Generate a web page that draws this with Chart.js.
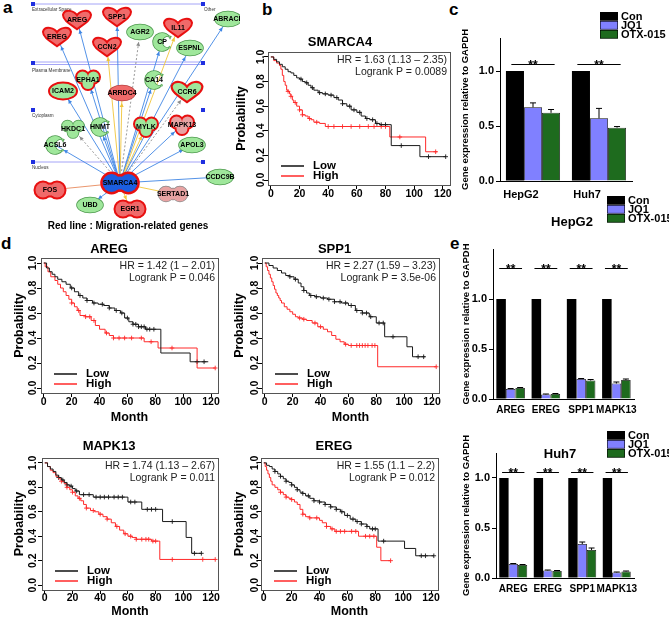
<!DOCTYPE html>
<html>
<head>
<meta charset="utf-8">
<script src="https://cdn.jsdelivr.net/npm/chart.js"></script>
<style>
  html, body { margin: 0; padding: 0; background: #fff; }
  body { width: 669px; height: 617px; position: relative; overflow: hidden; font-family: "Liberation Sans", Arial, sans-serif; }
  .tag { position: absolute; font-weight: bold; font-size: 17px; line-height: 17px; color: #000; }
</style>
</head>
<body>
<div class="tag" style="left:3px;top:-1px">a</div>
<div class="tag" style="left:262px;top:1px">b</div>
<div class="tag" style="left:449px;top:1px">c</div>
<div class="tag" style="left:1px;top:235px">d</div>
<div class="tag" style="left:450px;top:235px">e</div>
<script>
// ---- network (panel a) ----
const netGenes = ['AREG', 'SPP1', 'EREG', 'CCN2', 'AGR2', 'IL11', 'CP', 'ESPNL', 'ABRACL', 'EPHA1', 'ICAM2', 'ARRDC4', 'CA14', 'CCR6',
    'HKDC1', 'HNMT', 'MYLK', 'MAPK13', 'ACSL6', 'APOL3', 'CCDC9B', 'FOS', 'SERTAD1', 'UBD', 'EGR1'];
const netX = [77, 117, 57, 107, 140, 178, 162, 190, 228, 88, 63, 122, 154, 187, 73, 100, 146, 182, 55, 192, 220, 50, 173, 90, 130];
const netY = [20, 17, 37, 47, 32, 28, 42, 48, 19, 80, 91, 93, 80, 92, 129, 127, 127, 125, 145, 145, 177, 190, 194, 205, 209];
const netKind = ['lig', 'lig', 'lig', 'lig', 'ell', 'lig', 'cres', 'ell', 'ell', 'kin', 'ell', 'ell', 'cres', 'lig',
    'kin', 'cres', 'kin', 'kin', 'cres', 'ell', 'ell', 'pea', 'pea', 'ell', 'pea'];
const netFill = ['red', 'red', 'red', 'red', 'green', 'red', 'green', 'green', 'green', 'green', 'green', 'red', 'green', 'green',
    'green', 'green', 'green', 'pink', 'green', 'green', 'green', 'red', 'pink', 'green', 'red'];
const netRing = [1, 1, 1, 1, 0, 1, 0, 0, 0, 1, 1, 0, 0, 1, 0, 0, 1, 1, 0, 0, 0, 1, 0, 0, 1];
const netEdge = ['blue', 'blue', 'blue', 'yellow', 'gray', 'yellow', 'blue', 'blue', 'blue', 'blue', 'blue', 'yellow', 'blue', 'gray',
    'gray', 'blue', 'yellow', 'blue', 'blue', 'blue', 'blue', 'orange', 'yellow', 'blue', 'yellow'];
const hubGene = 'SMARCA4';
const hubX = 120;
const hubY = 183;
const compartNames = ['Extracellular Space', 'Other', 'Plasma Membrane', 'Cytoplasm', 'Nucleus'];
const compartNameX = [32, 204, 32, 32, 32];
const compartNameY = [10, 10, 71, 116, 168];
const compartLines = [4, 62, 64.5, 162];
const compartMarks = [4, 63, 110, 162];

// ---- survival curves (b, d) ----
const kmXTicks = [0, 20, 40, 60, 80, 100, 120];
const kmYTicks = [0, 0.2, 0.4, 0.6, 0.8, 1.0];

const smLowT = [0, 2, 4, 6, 8, 10, 12, 14, 16, 18, 20, 22, 24, 26, 28, 30, 33, 36, 40, 44, 47, 50, 53, 56, 60, 63, 66, 69, 73, 76, 84, 104, 122];
const smLowS = [1, 0.98, 0.96, 0.94, 0.92, 0.9, 0.88, 0.87, 0.85, 0.83, 0.82, 0.8, 0.79, 0.77, 0.75, 0.73, 0.71, 0.7, 0.69, 0.67, 0.65, 0.62, 0.6, 0.57, 0.55, 0.52, 0.5, 0.49, 0.46, 0.45, 0.28, 0.19, 0.19];
const smLowC = [21, 25, 29, 34, 38, 42, 46, 50, 55, 58, 62, 67, 71, 74, 77, 80, 91, 110, 122];
const smHighT = [0, 2, 4, 6, 7, 8, 9, 10, 11, 12, 13, 14, 15, 16, 18, 20, 22, 24, 26, 28, 30, 34, 38, 83, 108, 116];
const smHighS = [1, 0.97, 0.95, 0.93, 0.9, 0.85, 0.8, 0.77, 0.73, 0.72, 0.7, 0.68, 0.65, 0.63, 0.6, 0.57, 0.53, 0.52, 0.5, 0.49, 0.47, 0.46, 0.435, 0.35, 0.23, 0.23];
const smHighC = [12, 14, 17, 20, 22, 27, 32, 40, 44, 50, 56, 62, 68, 72, 77, 80, 90, 115];

const arLowT = [0, 2, 4, 6, 8, 10, 13, 16, 19, 22, 25, 28, 31, 35, 39, 43, 47, 51, 55, 58, 61, 64, 68, 73, 84, 105, 118];
const arLowS = [1, 0.96, 0.93, 0.91, 0.89, 0.87, 0.85, 0.83, 0.8, 0.77, 0.74, 0.72, 0.7, 0.68, 0.67, 0.66, 0.64, 0.62, 0.6, 0.56, 0.53, 0.51, 0.49, 0.47, 0.28, 0.21, 0.21];
const arLowC = [20, 26, 31, 36, 42, 47, 52, 56, 60, 64, 66, 68, 70, 72, 74, 76, 79, 110, 115];
const arHighT = [0, 1, 3, 5, 8, 10, 12, 14, 16, 18, 20, 22, 24, 26, 30, 34, 37, 40, 44, 47, 50, 72, 82, 110, 123];
const arHighS = [1, 0.97, 0.93, 0.89, 0.86, 0.83, 0.8, 0.77, 0.74, 0.71, 0.68, 0.65, 0.62, 0.58, 0.57, 0.54, 0.5, 0.47, 0.44, 0.42, 0.4, 0.37, 0.32, 0.16, 0.16];
const arHighC = [20, 25, 30, 33, 36, 45, 50, 54, 58, 63, 70, 77, 92, 123];

const spLowT = [0, 3, 6, 9, 12, 15, 18, 21, 24, 26, 28, 30, 32, 36, 40, 45, 50, 55, 60, 65, 70, 75, 80, 86, 102, 106, 115];
const spLowS = [1, 0.98, 0.96, 0.94, 0.92, 0.9, 0.89, 0.87, 0.84, 0.81, 0.78, 0.76, 0.74, 0.73, 0.72, 0.71, 0.69, 0.68, 0.66, 0.62, 0.6, 0.57, 0.52, 0.41, 0.33, 0.25, 0.25];
const spLowC = [18, 22, 28, 33, 37, 42, 46, 50, 54, 58, 62, 66, 70, 73, 76, 82, 85, 92, 110, 114];
const spHighT = [0, 1, 2, 3, 4, 5, 6, 7, 8, 9, 10, 11, 12, 14, 16, 18, 20, 22, 24, 27, 30, 34, 38, 42, 45, 48, 51, 54, 57, 60, 81, 123];
const spHighS = [1, 0.97, 0.94, 0.91, 0.88, 0.85, 0.82, 0.79, 0.76, 0.74, 0.72, 0.7, 0.68, 0.65, 0.63, 0.61, 0.59, 0.57, 0.56, 0.55, 0.54, 0.52, 0.49, 0.47, 0.45, 0.42, 0.39, 0.37, 0.35, 0.34, 0.17, 0.17];
const spHighC = [25, 28, 36, 40, 58, 62, 66, 68, 70, 72, 74, 77, 79, 123];

const mkLowT = [0, 2, 4, 6, 8, 10, 12, 14, 16, 18, 20, 22, 25, 35, 60, 70, 85, 102, 106, 113];
const mkLowS = [1, 0.97, 0.95, 0.93, 0.9, 0.88, 0.86, 0.84, 0.82, 0.81, 0.79, 0.77, 0.74, 0.72, 0.68, 0.62, 0.52, 0.39, 0.26, 0.26];
const mkLowC = [10, 13, 16, 19, 23, 28, 32, 37, 40, 43, 46, 50, 53, 56, 62, 65, 74, 77, 80, 92, 108, 113];
const mkHighT = [0, 2, 4, 6, 8, 10, 12, 14, 16, 18, 20, 22, 24, 26, 28, 30, 33, 36, 39, 42, 45, 48, 51, 54, 57, 60, 63, 66, 77, 83, 123];
const mkHighS = [1, 0.97, 0.94, 0.92, 0.89, 0.87, 0.85, 0.83, 0.8, 0.78, 0.76, 0.73, 0.71, 0.69, 0.66, 0.63, 0.61, 0.6, 0.58, 0.56, 0.54, 0.51, 0.48, 0.45, 0.42, 0.4, 0.39, 0.375, 0.36, 0.21, 0.21];
const mkHighC = [12, 16, 20, 25, 30, 35, 40, 45, 52, 58, 62, 66, 70, 73, 75, 78, 80, 92, 114, 123];

const erLowT = [0, 2, 4, 6, 8, 10, 12, 14, 16, 18, 20, 22, 24, 26, 28, 30, 33, 36, 40, 44, 48, 52, 55, 58, 62, 66, 70, 74, 76, 82, 101, 109, 122];
const erLowS = [1, 0.98, 0.97, 0.95, 0.93, 0.91, 0.89, 0.87, 0.85, 0.84, 0.82, 0.8, 0.78, 0.76, 0.75, 0.73, 0.71, 0.69, 0.68, 0.66, 0.64, 0.62, 0.6, 0.57, 0.54, 0.52, 0.5, 0.48, 0.46, 0.36, 0.3, 0.24, 0.24];
const erLowC = [8, 12, 16, 20, 24, 28, 32, 36, 40, 44, 48, 52, 56, 60, 64, 67, 70, 74, 78, 80, 86, 113, 116, 122];
const erHighT = [0, 1, 2, 3, 4, 5, 6, 8, 10, 12, 14, 16, 18, 20, 22, 24, 26, 28, 30, 33, 40, 42, 45, 48, 51, 68, 81, 84, 91];
const erHighS = [1, 0.97, 0.94, 0.91, 0.88, 0.85, 0.82, 0.8, 0.78, 0.76, 0.74, 0.72, 0.71, 0.7, 0.68, 0.66, 0.62, 0.58, 0.56, 0.55, 0.53, 0.51, 0.48, 0.46, 0.44, 0.4, 0.31, 0.2, 0.2];
const erHighC = [12, 16, 20, 28, 33, 38, 45, 49, 52, 55, 58, 63, 66, 73, 76, 79, 91];

// ---- qPCR bars (c, e) ----
const barSeries = ['Con', 'JQ1', 'OTX-015'];
const barTicks = [0, 0.5, 1.0];

const cLabels = ['HepG2', 'Huh7'];
const cCon = [1, 1];
const cJq1 = [0.67, 0.57];
const cJq1Err = [0.04, 0.09];
const cOtx = [0.62, 0.485];
const cOtxErr = [0.03, 0.01];

const eLabels = ['AREG', 'EREG', 'SPP1', 'MAPK13'];
const hepCon = [1, 1, 1, 1];
const hepJq1 = [0.1, 0.045, 0.2, 0.155];
const hepJq1Err = [0.005, 0.005, 0.005, 0.015];
const hepOtx = [0.11, 0.05, 0.185, 0.19];
const hepOtxErr = [0.005, 0.005, 0.01, 0.01];
const huhCon = [1, 1, 1, 1];
const huhJq1 = [0.14, 0.075, 0.34, 0.055];
const huhJq1Err = [0.005, 0.005, 0.02, 0.005];
const huhOtx = [0.13, 0.07, 0.28, 0.065];
const huhOtxErr = [0.005, 0.005, 0.02, 0.005];

const FAM = '"Liberation Sans", Arial, sans-serif';
Chart.defaults.font.family = FAM;
Chart.defaults.color = '#000';

const measureCtx = document.createElement('canvas').getContext('2d');

function makeCanvas(x, y, w, h) {
    const c = document.createElement('canvas');
    c.width = w;
    c.height = h;
    c.style.cssText = `position:absolute;left:${x}px;top:${y}px;width:${w}px;height:${h}px`;
    document.body.appendChild(c);
    return c;
}

// ---------- panel a ----------
const edgeColors = { blue: '#3f86e4', yellow: '#f0c53a', gray: '#8c8c8c', orange: '#e88a5c' };
const fillColors = { red: '#f06a6a', green: '#9fe79b', pink: '#e8a3a3', blue: '#1c5ee0' };
const lineColors = { red: '#b84444', green: '#4f9a4f', pink: '#8a8a8a', blue: '#1c3f99' };

function shapeParts(kind) {
    if (kind === 'lig') {
        return [ctx => {
            ctx.moveTo(0, -3);
            ctx.bezierCurveTo(-3, -9, -12, -10, -13, -5);
            ctx.bezierCurveTo(-13, 0, -5, 4, 0, 8);
            ctx.bezierCurveTo(5, 4, 13, 0, 13, -5);
            ctx.bezierCurveTo(12, -10, 3, -9, 0, -3);
        }];
    }
    if (kind === 'ell') {
        return [ctx => ctx.ellipse(0, 0, 13, 7.5, 0, 0, Math.PI * 2)];
    }
    if (kind === 'cres') {
        return [ctx => {
            ctx.arc(0, 0, 9, 0.15 * Math.PI, 1.85 * Math.PI);
            ctx.arc(6, 0, 6, 1.647 * Math.PI, 0.353 * Math.PI, true);
        }];
    }
    if (kind === 'kin') {
        return [
            ctx => ctx.arc(-5.5, -3, 5.5, 0, Math.PI * 2),
            ctx => ctx.arc(5.5, -3, 5.5, 0, Math.PI * 2),
            ctx => ctx.arc(0, 3.5, 5.5, 0, Math.PI * 2)
        ];
    }
    // two-lobed nuclear factor
    return [
        ctx => ctx.arc(-7, 0, 7.5, 0, Math.PI * 2),
        ctx => ctx.arc(7, 0, 7.5, 0, Math.PI * 2),
        ctx => ctx.ellipse(0, 0, 8, 5.5, 0, 0, Math.PI * 2)
    ];
}

function drawNode(ctx, px, py, kind, fill, ring, label, scale) {
    const parts = shapeParts(kind);
    ctx.save();
    ctx.translate(px, py);
    ctx.scale(scale, scale);
    ctx.lineWidth = ring ? 4 : 1.6;
    ctx.strokeStyle = ring ? '#e81010' : lineColors[fill];
    parts.forEach(p => { ctx.beginPath(); p(ctx); ctx.stroke(); });
    ctx.fillStyle = fillColors[fill];
    parts.forEach(p => { ctx.beginPath(); p(ctx); ctx.fill(); });
    ctx.restore();
    ctx.save();
    ctx.font = 'bold 7px ' + FAM;
    ctx.fillStyle = '#000';
    ctx.textAlign = 'center';
    ctx.textBaseline = 'middle';
    ctx.fillText(label, px, py);
    ctx.restore();
}

const netPlugin = {
    id: 'net',
    beforeDatasetsDraw(chart) {
        const { ctx, scales: { x, y } } = chart;
        ctx.save();
        ctx.strokeStyle = '#8e8ef5';
        ctx.lineWidth = 0.8;
        compartLines.forEach(v => {
            ctx.beginPath();
            ctx.moveTo(x.getPixelForValue(33), y.getPixelForValue(v));
            ctx.lineTo(x.getPixelForValue(203), y.getPixelForValue(v));
            ctx.stroke();
        });
        ctx.fillStyle = '#1f2fe0';
        compartMarks.forEach(v => {
            [33, 203].forEach(xv => ctx.fillRect(x.getPixelForValue(xv) - 2, y.getPixelForValue(v) - 2, 4, 4));
        });
        ctx.fillStyle = '#333';
        ctx.font = '4.6px ' + FAM;
        ctx.textBaseline = 'middle';
        compartNames.forEach((n, i) => ctx.fillText(n, x.getPixelForValue(compartNameX[i]), y.getPixelForValue(compartNameY[i])));
        ctx.restore();
    },
    afterDatasetsDraw(chart) {
        const { ctx, scales: { x, y } } = chart;
        const hx = x.getPixelForValue(hubX);
        const hy = y.getPixelForValue(hubY);
        // arrow heads
        netGenes.forEach((g, i) => {
            const nx = x.getPixelForValue(netX[i]);
            const ny = y.getPixelForValue(netY[i]);
            const len = Math.hypot(nx - hx, ny - hy);
            const ux = (nx - hx) / len;
            const uy = (ny - hy) / len;
            const tx = nx - ux * 10;
            const ty = ny - uy * 10;
            ctx.save();
            ctx.fillStyle = edgeColors[netEdge[i]];
            ctx.beginPath();
            ctx.moveTo(tx, ty);
            ctx.lineTo(tx - ux * 4 - uy * 2, ty - uy * 4 + ux * 2);
            ctx.lineTo(tx - ux * 4 + uy * 2, ty - uy * 4 - ux * 2);
            ctx.closePath();
            ctx.fill();
            ctx.restore();
        });
        netGenes.forEach((g, i) => {
            const sc = g === 'CCR6' ? 1.1 : 1;
            drawNode(ctx, x.getPixelForValue(netX[i]), y.getPixelForValue(netY[i]), netKind[i], netFill[i], netRing[i], g, sc);
        });
        drawNode(ctx, hx, hy, 'pea', 'blue', 1, hubGene, 1.2);
        ctx.save();
        ctx.font = 'bold 10px ' + FAM;
        ctx.fillStyle = '#000';
        ctx.textAlign = 'center';
        ctx.textBaseline = 'middle';
        ctx.fillText('Red line : Migration-related genes', x.getPixelForValue(128), y.getPixelForValue(226));
        ctx.restore();
    }
};

new Chart(makeCanvas(0, 0, 240, 232), {
    type: 'scatter',
    data: {
        datasets: netGenes.map((g, i) => ({
            label: g,
            data: [{ x: hubX, y: hubY }, { x: netX[i], y: netY[i] }],
            showLine: true,
            borderColor: edgeColors[netEdge[i]],
            borderWidth: 0.9,
            borderDash: netEdge[i] === 'gray' ? [2, 2] : [],
            pointRadius: 0
        }))
    },
    options: {
        responsive: false,
        animation: false,
        events: [],
        layout: { padding: 0 },
        scales: {
            x: { type: 'linear', min: 0, max: 240, display: false },
            y: { type: 'linear', min: 0, max: 232, reverse: true, display: false }
        },
        plugins: { legend: { display: false }, tooltip: { enabled: false } }
    },
    plugins: [netPlugin]
});

// ---------- panels b, d ----------
function stepData(t, s) {
    return t.map((v, i) => ({ x: v, y: s[i] }));
}

function censorData(t, s, c) {
    return c.map(m => {
        let k = 0;
        for (let i = 0; i < t.length; i++) {
            if (t[i] <= m) k = i;
        }
        return { x: m, y: s[k] };
    });
}

const kmDecor = {
    id: 'kmDecor',
    afterDraw(chart, args, o) {
        const { ctx, chartArea: a } = chart;
        ctx.save();
        ctx.strokeStyle = '#555';
        ctx.lineWidth = 1;
        ctx.strokeRect(Math.round(a.left) + 0.5, Math.round(a.top) + 0.5, Math.round(a.width), Math.round(a.height));
        ctx.fillStyle = '#222';
        ctx.font = '10.5px ' + FAM;
        ctx.textAlign = 'right';
        ctx.textBaseline = 'middle';
        ctx.fillText(o.hr, a.right - 3, a.top + 8);
        ctx.fillText(o.p, a.right - 3, a.top + 20);
        const rows = [['Low', '#111', 19], ['High', '#ff2a2a', 9]];
        ctx.textAlign = 'left';
        ctx.font = 'bold 11.5px ' + FAM;
        rows.forEach(([t, c, dy]) => {
            ctx.strokeStyle = c;
            ctx.lineWidth = 1.5;
            ctx.beginPath();
            ctx.moveTo(a.left + 13, a.bottom - dy);
            ctx.lineTo(a.left + 36, a.bottom - dy);
            ctx.stroke();
            ctx.fillStyle = '#000';
            ctx.fillText(t, a.left + 45, a.bottom - dy);
        });
        ctx.restore();
    }
};

function drawKM(g, d) {
    const tl = 4;
    const tickFont = { size: 10.5, weight: 'bold' };
    measureCtx.font = 'bold 10.5px ' + FAM;
    const widest = measureCtx.measureText('0.0').width;
    const cv = makeCanvas(g.cl, g.ct, g.cw, g.ch);
    new Chart(cv, {
        type: 'line',
        data: {
            datasets: [
                { data: stepData(d.lowT, d.lowS), borderColor: '#1a1a1a', borderWidth: 1, stepped: true, pointRadius: 0 },
                { data: stepData(d.highT, d.highS), borderColor: '#ff2a2a', borderWidth: 1, stepped: true, pointRadius: 0 },
                {
                    data: censorData(d.lowT, d.lowS, d.lowC), showLine: false, pointStyle: 'cross', pointRadius: 2.3,
                    borderColor: '#1a1a1a', pointBorderColor: '#1a1a1a', pointBorderWidth: 0.9
                },
                {
                    data: censorData(d.highT, d.highS, d.highC), showLine: false, pointStyle: 'cross', pointRadius: 2.3,
                    borderColor: '#ff2a2a', pointBorderColor: '#ff2a2a', pointBorderWidth: 0.9
                }
            ]
        },
        options: {
            responsive: false,
            animation: false,
            events: [],
            layout: { padding: { left: 0, top: 0, bottom: 0, right: g.cl + g.cw - g.r } },
            plugins: {
                legend: { display: false },
                tooltip: { enabled: false },
                title: {
                    display: true,
                    text: d.title,
                    color: '#000',
                    font: { size: 13, weight: 'bold' },
                    padding: { top: g.titleY - g.ct - 7.8, bottom: g.t - g.titleY - 7.8 }
                },
                kmDecor: { hr: d.hr, p: d.p }
            },
            scales: {
                x: {
                    type: 'linear',
                    min: -2,
                    max: 125,
                    afterBuildTicks: s => { s.ticks = kmXTicks.map(v => ({ value: v })); },
                    afterFit: s => { s.height = g.ct + g.ch - g.b; },
                    grid: { drawOnChartArea: false, drawTicks: true, tickLength: tl, color: '#000' },
                    border: { display: false },
                    ticks: { font: tickFont, color: '#000', maxRotation: 0, autoSkip: false, padding: g.xLabY - 5 - g.b - tl },
                    title: {
                        display: !!g.monthY,
                        text: 'Month',
                        color: '#000',
                        font: { size: 12.5, weight: 'bold' },
                        padding: { top: 0, bottom: g.monthY ? g.ct + g.ch - g.monthY - 7.5 : 0 }
                    }
                },
                y: {
                    type: 'linear',
                    min: -0.04,
                    max: 1.04,
                    afterBuildTicks: s => { s.ticks = kmYTicks.map(v => ({ value: v })); },
                    afterFit: s => { s.width = g.l - g.cl; },
                    grid: { drawOnChartArea: false, drawTicks: true, tickLength: tl, color: '#000' },
                    border: { display: false },
                    ticks: {
                        font: tickFont,
                        color: '#000',
                        minRotation: 90,
                        maxRotation: 90,
                        crossAlign: 'center',
                        padding: (g.l - g.yLabX) - tl - widest / 2,
                        callback: v => v.toFixed(1)
                    },
                    title: {
                        display: true,
                        text: 'Probability',
                        color: '#000',
                        font: { size: 12.5, weight: 'bold' },
                        padding: { top: g.probX - g.cl - 7.5, bottom: 0 }
                    }
                }
            }
        },
        plugins: [kmDecor]
    });
}

drawKM({ cl: 230, ct: 0, cw: 230, ch: 200, l: 268, r: 450, t: 52, b: 185, titleY: 42, probX: 242, yLabX: 261, xLabY: 193, monthY: null },
    { title: 'SMARCA4', hr: 'HR = 1.63 (1.13 \u2013 2.35)', p: 'Logrank P = 0.0089',
      lowT: smLowT, lowS: smLowS, lowC: smLowC, highT: smHighT, highS: smHighS, highC: smHighC });
drawKM({ cl: 0, ct: 232, cw: 230, ch: 195, l: 41, r: 218, t: 258, b: 393, titleY: 249, probX: 20, yLabX: 33, xLabY: 401, monthY: 418 },
    { title: 'AREG', hr: 'HR = 1.42 (1 \u2013 2.01)', p: 'Logrank P = 0.046',
      lowT: arLowT, lowS: arLowS, lowC: arLowC, highT: arHighT, highS: arHighS, highC: arHighC });
drawKM({ cl: 230, ct: 232, cw: 230, ch: 195, l: 262, r: 439, t: 258, b: 393, titleY: 249, probX: 240, yLabX: 255, xLabY: 401, monthY: 418 },
    { title: 'SPP1', hr: 'HR = 2.27 (1.59 \u2013 3.23)', p: 'Logrank P = 3.5e-06',
      lowT: spLowT, lowS: spLowS, lowC: spLowC, highT: spHighT, highS: spHighS, highC: spHighC });
drawKM({ cl: 0, ct: 430, cw: 230, ch: 191, l: 42, r: 218, t: 458, b: 590, titleY: 446, probX: 20, yLabX: 33, xLabY: 597, monthY: 612 },
    { title: 'MAPK13', hr: 'HR = 1.74 (1.13 \u2013 2.67)', p: 'Logrank P = 0.011',
      lowT: mkLowT, lowS: mkLowS, lowC: mkLowC, highT: mkHighT, highS: mkHighS, highC: mkHighC });
drawKM({ cl: 230, ct: 430, cw: 230, ch: 191, l: 261, r: 438, t: 458, b: 590, titleY: 446, probX: 240, yLabX: 255, xLabY: 597, monthY: 612 },
    { title: 'EREG', hr: 'HR = 1.55 (1.1 \u2013 2.2)', p: 'Logrank P = 0.012',
      lowT: erLowT, lowS: erLowS, lowC: erLowC, highT: erHighT, highS: erHighS, highC: erHighC });

// ---------- panels c, e ----------
const barColors = ['#000000', '#8080ff', '#1e6b1e'];

const barDecor = {
    id: 'barDecor',
    afterDatasetsDraw(chart, args, o) {
        const { ctx, scales: { y } } = chart;
        ctx.save();
        ctx.strokeStyle = '#000';
        ctx.lineWidth = 1;
        chart.data.datasets.forEach((ds, di) => {
            if (!ds.err) return;
            chart.getDatasetMeta(di).data.forEach((el, i) => {
                const top = y.getPixelForValue(ds.data[i] + ds.err[i]);
                ctx.beginPath();
                ctx.moveTo(el.x, el.y);
                ctx.lineTo(el.x, top);
                ctx.moveTo(el.x - 3, top);
                ctx.lineTo(el.x + 3, top);
                ctx.stroke();
            });
        });
        const m0 = chart.getDatasetMeta(0).data;
        const m2 = chart.getDatasetMeta(2).data;
        const sy = Math.round(y.getPixelForValue(o.sig)) + 0.5;
        ctx.font = 'bold 12px ' + FAM;
        ctx.fillStyle = '#000';
        ctx.textAlign = 'center';
        ctx.textBaseline = 'alphabetic';
        m0.forEach((el, i) => {
            const x0 = el.x - el.width * 0.2;
            const x1 = m2[i].x + m2[i].width * 0.2;
            ctx.beginPath();
            ctx.moveTo(x0, sy);
            ctx.lineTo(x1, sy);
            ctx.stroke();
            ctx.fillText('**', (x0 + x1) / 2, sy + 4);
        });
        // legend
        ctx.font = 'bold 11px ' + FAM;
        ctx.textAlign = 'left';
        ctx.textBaseline = 'middle';
        chart.data.datasets.forEach((ds, i) => {
            const ly = o.legY - chart.canvas.offsetTop + i * 9;
            const lx = o.legX - chart.canvas.offsetLeft;
            ctx.fillStyle = ds.backgroundColor;
            ctx.fillRect(lx, ly, 18, 8.5);
            ctx.strokeStyle = '#000';
            ctx.lineWidth = 0.6;
            ctx.strokeRect(lx + 0.3, ly + 0.3, 17.4, 7.9);
            ctx.fillStyle = '#000';
            ctx.fillText(ds.label, lx + 21, ly + 4.5);
        });
        if (o.title) {
            ctx.font = 'bold 13px ' + FAM;
            ctx.textAlign = 'center';
            ctx.fillText(o.title, o.titleX - chart.canvas.offsetLeft, o.titleY - chart.canvas.offsetTop);
        }
        ctx.restore();
    }
};

function drawBars(g, d) {
    const cv = makeCanvas(g.cl, g.ct, g.cw, g.ch);
    const vals = [d.con, d.jq1, d.otx];
    const errs = [null, d.jq1Err, d.otxErr];
    new Chart(cv, {
        type: 'bar',
        data: {
            labels: d.labels,
            datasets: barSeries.map((s, i) => ({
                label: s,
                data: vals[i],
                err: errs[i],
                backgroundColor: barColors[i],
                borderColor: '#111',
                borderWidth: i === 0 ? 0 : 0.8,
                barPercentage: 1,
                categoryPercentage: g.catPct
            }))
        },
        options: {
            responsive: false,
            animation: false,
            events: [],
            layout: { padding: { left: 0, right: g.cl + g.cw - g.r, top: g.t - g.ct, bottom: 0 } },
            plugins: {
                legend: { display: false },
                tooltip: { enabled: false },
                barDecor: { sig: g.sig, legX: g.legX, legY: g.legY, title: d.title, titleX: g.titleX, titleY: g.titleY }
            },
            scales: {
                x: {
                    afterFit: s => { s.height = g.ct + g.ch - g.b; },
                    grid: { display: false, drawTicks: false },
                    border: { display: true, color: '#000', width: 1 },
                    ticks: {
                        font: { size: g.xFont, weight: 'bold' }, color: '#000', autoSkip: false, maxRotation: 0,
                        padding: g.xLabY - 5 - g.b, labelOffset: g.labelShift || 0
                    }
                },
                y: {
                    min: 0,
                    max: g.ymax,
                    afterBuildTicks: s => { s.ticks = barTicks.map(v => ({ value: v })); },
                    afterFit: s => { s.width = g.l - g.cl; },
                    grid: { drawOnChartArea: false, drawTicks: true, tickLength: 4, color: '#000' },
                    border: { display: true, color: '#000', width: 1 },
                    ticks: { font: { size: 11, weight: 'bold' }, color: '#000', padding: 2, callback: v => v.toFixed(1) },
                    title: {
                        display: true,
                        text: 'Gene expression relative to GAPDH',
                        color: '#000',
                        font: { size: 9.5, weight: 'bold' },
                        padding: { top: g.yTitleX - g.cl - 5.7, bottom: 0 }
                    }
                }
            }
        },
        plugins: [barDecor]
    });
}

drawBars({ cl: 460, ct: 0, cw: 209, ch: 200, l: 500, r: 632, t: 38, b: 181, ymax: 1.3, yTitleX: 465, xLabY: 193, xFont: 11,
           sig: 1.06, legX: 600, legY: 12, catPct: 0.82, labelShift: -12 },
    { labels: cLabels, con: cCon, jq1: cJq1, jq1Err: cJq1Err, otx: cOtx, otxErr: cOtxErr, title: null });
drawBars({ cl: 460, ct: 190, cw: 209, ch: 235, l: 493, r: 634, t: 249, b: 399, ymax: 1.5, yTitleX: 466, xLabY: 409, xFont: 10,
           sig: 1.31, legX: 607, legY: 196, catPct: 0.81, titleX: 572, titleY: 222 },
    { labels: eLabels, con: hepCon, jq1: hepJq1, jq1Err: hepJq1Err, otx: hepOtx, otxErr: hepOtxErr, title: 'HepG2' });
drawBars({ cl: 460, ct: 425, cw: 209, ch: 192, l: 496, r: 634, t: 453, b: 578, ymax: 1.25, yTitleX: 466, xLabY: 588, xFont: 10,
           sig: 1.06, legX: 607, legY: 431, catPct: 0.81, titleX: 560, titleY: 454 },
    { labels: eLabels, con: huhCon, jq1: huhJq1, jq1Err: huhJq1Err, otx: huhOtx, otxErr: huhOtxErr, title: 'Huh7' });
</script>
</body>
</html>
